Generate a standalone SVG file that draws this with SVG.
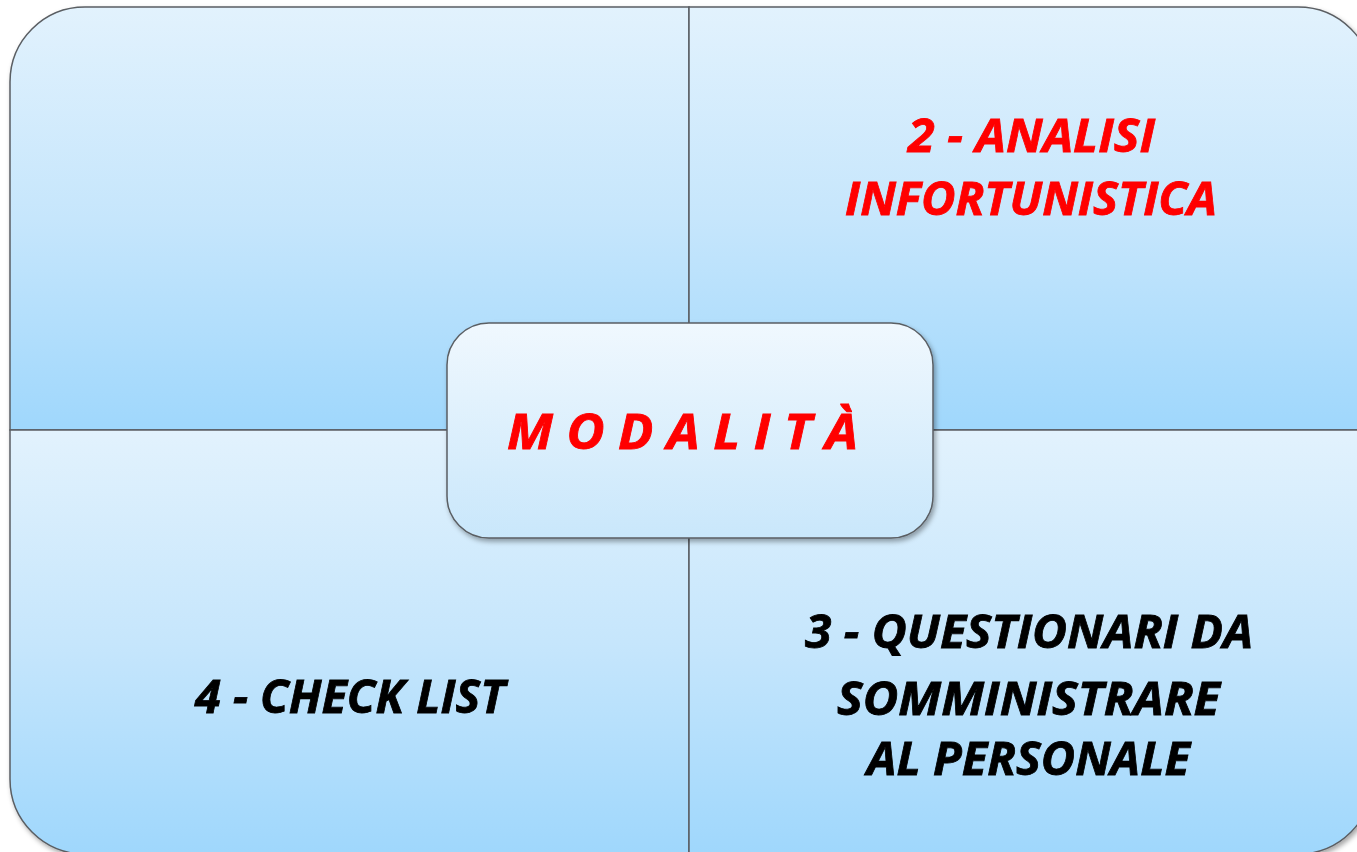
<svg xmlns="http://www.w3.org/2000/svg" width="1357" height="852" viewBox="0 0 1357 852">
  <defs>
    <linearGradient id="gq" x1="0" y1="0" x2="0" y2="1">
      <stop offset="0" stop-color="#E2F2FD"/>
      <stop offset="0.5" stop-color="#C6E6FC"/>
      <stop offset="1" stop-color="#9FD7FC"/>
    </linearGradient>
    <linearGradient id="gc" x1="0" y1="0" x2="0" y2="1">
      <stop offset="0" stop-color="#F0F8FE"/>
      <stop offset="1" stop-color="#C9E7FB"/>
    </linearGradient>
    <filter id="sh" x="-5%" y="-5%" width="110%" height="115%">
      <feDropShadow dx="2" dy="3" stdDeviation="2.5" flood-color="#000" flood-opacity="0.35"/>
    </filter>
  </defs>
  <style>
    .q { fill: url(#gq); stroke: #5A5E63; stroke-width: 1.5; }
    .c { fill: url(#gc); stroke: #5A5E63; stroke-width: 1.5; }
    .t { font-family: "Open Sans", "Liberation Sans", sans-serif; font-weight: bold; font-style: italic; stroke-width: 0.8; }
    .red { fill: #FF0000; stroke: #FF0000; }
    .blk { fill: #000000; stroke: #000000; }
  </style>
  <rect width="1357" height="852" fill="#FFFFFF"/>
  <g id="quadrants" filter="url(#sh)">
    <g id="q1">
      <path class="q" d="M10,430 V82 A75,75 0 0 1 85,7 H689 V430 Z"/>
    </g>
    <g id="q2">
      <path class="q" d="M689,7 H1298 A75,75 0 0 1 1373,82 V430 H689 Z"/>
      <text class="t red" x="908" y="152" font-size="46" textLength="247" lengthAdjust="spacingAndGlyphs">2 - ANALISI</text>
      <text class="t red" x="845" y="215" font-size="46" textLength="372" lengthAdjust="spacingAndGlyphs">INFORTUNISTICA</text>
    </g>
    <g id="q4">
      <path class="q" d="M10,430 H689 V854 H85 A75,75 0 0 1 10,779 Z"/>
      <text class="t blk" x="195" y="713" font-size="46" textLength="310" lengthAdjust="spacingAndGlyphs">4 - CHECK LIST</text>
    </g>
    <g id="q3">
      <path class="q" d="M689,430 H1373 V779 A75,75 0 0 1 1298,854 H689 Z"/>
      <text class="t blk" x="805" y="648" font-size="46" textLength="448" lengthAdjust="spacingAndGlyphs">3 - QUESTIONARI DA</text>
      <text class="t blk" x="837" y="715" font-size="46" textLength="383" lengthAdjust="spacingAndGlyphs">SOMMINISTRARE</text>
      <text class="t blk" x="867" y="775" font-size="46" textLength="323" lengthAdjust="spacingAndGlyphs">AL PERSONALE</text>
    </g>
  </g>
  <g id="center" filter="url(#sh)">
    <rect class="c" x="447" y="323" width="486" height="215" rx="42" ry="42"/>
    <text class="t red" x="507" y="449" font-size="48" textLength="351" lengthAdjust="spacingAndGlyphs">M O D A L I T À</text>
  </g>
</svg>
